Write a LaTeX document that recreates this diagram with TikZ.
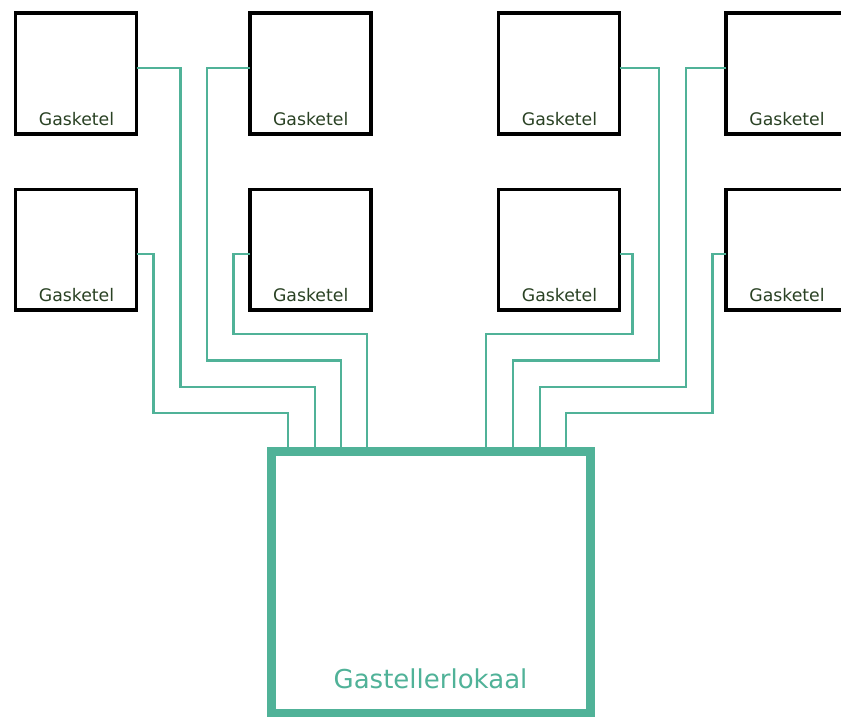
\documentclass[tikz,border=0pt]{standalone}
\usepackage{fontspec}
\setmainfont{DejaVu Sans}
\definecolor{pipegreen}{RGB}{80,178,152}
\definecolor{labelgreen}{RGB}{42,66,36}
\begin{document}
\begin{tikzpicture}[x=1pt,y=-1pt,
  ketel/.style={draw=black,line width=3.8pt,rectangle,inner sep=0pt,outer sep=0pt,minimum width=121pt,minimum height=120.6pt},
  ktext/.style={anchor=base,inner sep=0pt,text=labelgreen,font=\fontsize{17.3}{19}\selectfont},
  pipe/.style={draw=pipegreen,line width=2.7pt},
  lokaalbox/.style={draw=pipegreen,line width=9pt,rectangle,inner sep=0pt,outer sep=0pt,minimum width=319pt,minimum height=262pt},
  ltext/.style={anchor=base,inner sep=0pt,text=pipegreen,font=\fontsize{26}{30}\selectfont}]
\useasboundingbox (0,0) rectangle (841,717);
\fill[white] (0,0) rectangle (841,717);
% boilers
\node[ketel] (kA) at (76,73.7) {};
\node[ketel] (kB) at (310.5,73.7) {};
\node[ketel] (kC) at (559,73.7) {};
\node[ketel] (kD) at (786.5,73.7) {};
\node[ketel] (kE) at (76,249.8) {};
\node[ketel] (kF) at (310.5,249.8) {};
\node[ketel] (kG) at (559,249.8) {};
\node[ketel] (kH) at (786.5,249.8) {};
\node[ktext] (tA) at (76.5,125.3) {Gasketel};
\node[ktext] (tB) at (310.7,125.3) {Gasketel};
\node[ktext] (tC) at (559.5,125.3) {Gasketel};
\node[ktext] (tD) at (787,125.3) {Gasketel};
\node[ktext] (tE) at (76.5,301.7) {Gasketel};
\node[ktext] (tF) at (310.7,301.7) {Gasketel};
\node[ktext] (tG) at (559.5,301.7) {Gasketel};
\node[ktext] (tH) at (787,301.7) {Gasketel};
% gas meter room
\node[lokaalbox] (lok) at (431,582) {};
\node[ltext] (tL) at (430.5,688) {Gastellerlokaal};
% pipes left
\draw[pipe] (kE.east |- 0,254) -| (153.5,413) -| (lok.north -| 288,0);
\draw[pipe] (kA.east |- 0,68) -| (180.5,387) -| (lok.north -| 315,0);
\draw[pipe] (kB.west |- 0,68) -| (207,360.5) -| (lok.north -| 341,0);
\draw[pipe] (kF.west |- 0,254) -| (233.5,334) -| (lok.north -| 367,0);
% pipes right
\draw[pipe] (kG.east |- 0,254) -| (632.5,334) -| (lok.north -| 486,0);
\draw[pipe] (kC.east |- 0,68) -| (659,360.5) -| (lok.north -| 513,0);
\draw[pipe] (kD.west |- 0,68) -| (686,387) -| (lok.north -| 540,0);
\draw[pipe] (kH.west |- 0,254) -| (712.5,413) -| (lok.north -| 566,0);
\end{tikzpicture}
\end{document}
